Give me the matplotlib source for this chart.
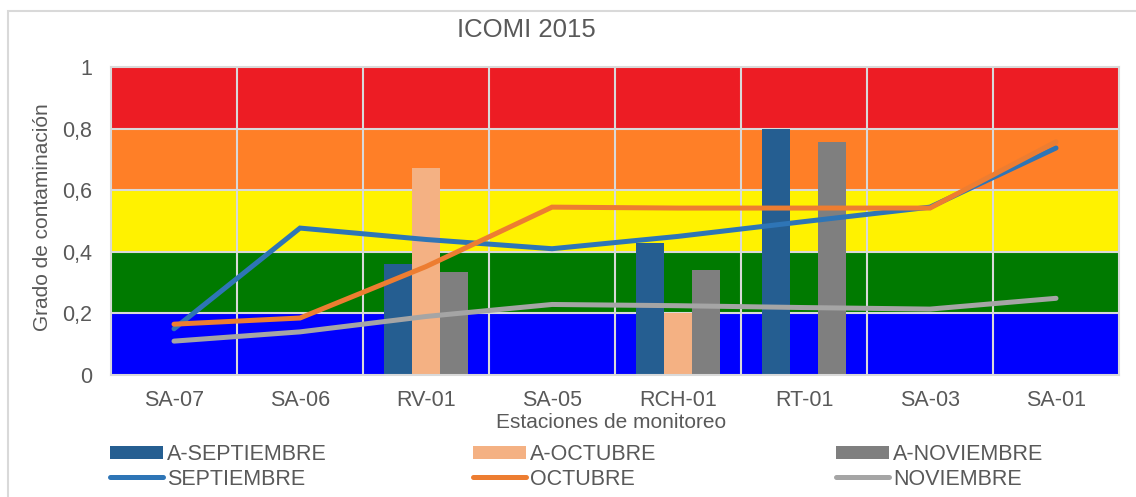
import numpy as np
import matplotlib
matplotlib.use('Agg')
import matplotlib.pyplot as plt
from matplotlib.patches import Rectangle

plt.rcParams['font.family'] = ['Liberation Sans', 'DejaVu Sans']

# --- data ---
stations = ['SA-07', 'SA-06', 'RV-01', 'SA-05', 'RCH-01', 'RT-01', 'SA-03', 'SA-01']

bar_sep = [0, 0, 0.36, 0, 0.43, 0.80, 0, 0]
bar_oct = [0, 0, 0.672, 0, 0.20, 0, 0, 0]
bar_nov = [0, 0, 0.335, 0, 0.34, 0.757, 0, 0]

line_sep = [0.15, 0.477, 0.44, 0.41, 0.45, 0.498, 0.545, 0.737]
line_oct = [0.165, 0.185, 0.352, 0.545, 0.542, 0.542, 0.542, 0.757]
line_nov = [0.11, 0.14, 0.19, 0.229, 0.225, 0.219, 0.214, 0.249]

y_ticks = [0, 0.2, 0.4, 0.6, 0.8, 1]
y_ticklabels = ['0', '0,2', '0,4', '0,6', '0,8', '1']

# contamination bands (lower, upper, colour)
band_edges = [0, 0.2, 0.4, 0.6, 0.8, 1.0]
band_colors = ['#0000FF', '#007A00', '#FFF200', '#FF7F27', '#ED1C24']

txt = '#595959'

fig = plt.figure(figsize=(11.36, 4.97), dpi=100)
ax = fig.add_axes([111 / 1136, 1 - 375 / 497, 1008 / 1136, 308 / 497])

# outer chart frame
fig.patches.append(Rectangle((8 / 1136, -0.05), 1.1, 1 - 11 / 497 + 0.05,
                             transform=fig.transFigure, fill=False,
                             edgecolor='#D9D9D9', linewidth=1.5, zorder=0))

for i in range(len(band_colors)):
    ax.axhspan(band_edges[i], band_edges[i + 1], color=band_colors[i], zorder=0, lw=0)

x = np.arange(len(stations))
w = 0.22
ax.bar(x - w, bar_sep, w, color='#255E91', label='A-SEPTIEMBRE', zorder=2)
ax.bar(x, bar_oct, w, color='#F4B183', label='A-OCTUBRE', zorder=2)
ax.bar(x + w, bar_nov, w, color='#7F7F7F', label='A-NOVIEMBRE', zorder=2)

lkw = dict(linewidth=3.6, solid_capstyle='round', solid_joinstyle='miter', zorder=3)
ax.plot(x, line_sep, color='#2E75B6', label='SEPTIEMBRE', **lkw)
ax.plot(x, line_nov, color='#A5A5A5', label='NOVIEMBRE', **lkw)
ax.plot(x, line_oct, color='#ED7D31', label='OCTUBRE', **lkw)

ax.set_xlim(-0.5, len(stations) - 0.5)
ax.set_ylim(0, 1)
ax.set_xticks(x)
ax.set_xticklabels(stations)
ax.set_yticks(y_ticks)
ax.set_yticklabels(y_ticklabels)
ax.tick_params(which='both', length=0, colors=txt, labelsize=15.5)
ax.tick_params(axis='x', pad=11)
ax.tick_params(axis='y', pad=13.5)

ax.grid(False)
for yy in y_ticks[1:-1]:
    ax.axhline(yy, color='#D9D9D9', lw=1.5, zorder=1)
for xx in np.arange(1, len(stations)) - 0.5:
    ax.axvline(xx, color='#D9D9D9', lw=1.5, zorder=1)
for s in ax.spines.values():
    s.set_color('#D9D9D9')
    s.set_linewidth(1.5)

fig.text(526 / 1136, 1 - 30 / 497, 'ICOMI 2015', ha='center', va='center',
         fontsize=18.5, color=txt)
fig.text(43 / 1136, 1 - 217 / 497, 'Grado de contaminación', rotation=90,
         ha='center', va='center', fontsize=15, color=txt)
fig.text(611 / 1136, 1 - 423 / 497, 'Estaciones de monitoreo', ha='center',
         va='center', fontsize=15, color=txt)

# legend: three columns placed like the original
h, l = ax.get_legend_handles_labels()
hd = dict(zip(l, h))
cols = [('A-SEPTIEMBRE', 'SEPTIEMBRE', 110),
        ('A-OCTUBRE', 'OCTUBRE', 473),
        ('A-NOVIEMBRE', 'NOVIEMBRE', 836)]
for a, b, px in cols:
    leg = fig.legend([hd[a], hd[b]], [a, b], loc='upper left',
                     bbox_to_anchor=(px / 1136, 1 - 444 / 497),
                     frameon=False, fontsize=15.5, borderpad=0, borderaxespad=0,
                     handlelength=2.45, handletextpad=0.2, labelspacing=0.17,
                     handleheight=0.6)
    for t in leg.get_texts():
        t.set_color(txt)

fig.savefig('out.png', dpi=100)
